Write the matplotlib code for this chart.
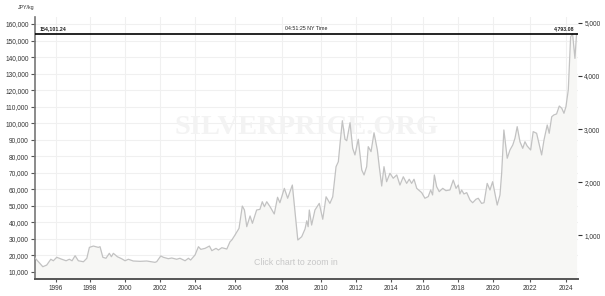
import numpy as np
import matplotlib
matplotlib.use('Agg')
import matplotlib.pyplot as plt

plt.rcParams['font.family'] = ['Liberation Sans', 'DejaVu Sans']

# silver price, JPY per kg
years = [1994.76, 1995.22, 1995.45, 1995.69, 1995.84, 1996.04, 1996.34, 1996.59, 1996.78, 1996.94,
         1997.12, 1997.31, 1997.61, 1997.81, 1997.96, 1998.19, 1998.47, 1998.57, 1998.73, 1998.91,
         1999.10, 1999.22, 1999.33, 1999.56, 1999.81, 2000.00, 2000.19, 2000.47, 2000.86, 2001.24,
         2001.71, 2001.81, 2002.04, 2002.19, 2002.47, 2002.67, 2002.95, 2003.14, 2003.43, 2003.62,
         2003.75, 2004.00, 2004.17, 2004.29, 2004.50, 2004.72, 2004.84, 2005.05, 2005.17, 2005.34,
         2005.59, 2005.75, 2005.84, 2006.00, 2006.17, 2006.31, 2006.40, 2006.50, 2006.64, 2006.74,
         2006.92, 2007.06, 2007.16, 2007.25, 2007.35, 2007.49, 2007.67, 2007.81, 2007.91, 2008.12,
         2008.29, 2008.53, 2008.81, 2009.01, 2009.18, 2009.27, 2009.34, 2009.40, 2009.52, 2009.69,
         2009.91, 2010.10, 2010.29, 2010.51, 2010.67, 2010.86, 2010.99, 2011.09, 2011.22, 2011.37,
         2011.47, 2011.66, 2011.81, 2011.94, 2012.13, 2012.33, 2012.46, 2012.61, 2012.70, 2012.86,
         2013.03, 2013.22, 2013.33, 2013.47, 2013.60, 2013.75, 2013.94, 2014.14, 2014.36, 2014.56,
         2014.77, 2014.98, 2015.14, 2015.29, 2015.44, 2015.61, 2015.92, 2016.11, 2016.30, 2016.44,
         2016.55, 2016.65, 2016.78, 2016.93, 2017.13, 2017.31, 2017.54, 2017.73, 2017.89, 2018.02,
         2018.11, 2018.21, 2018.34, 2018.50, 2018.69, 2018.84, 2019.03, 2019.16, 2019.35, 2019.49,
         2019.67, 2019.83, 2019.98, 2020.23, 2020.38, 2020.47, 2020.59, 2020.77, 2020.92, 2021.07,
         2021.19, 2021.31, 2021.46, 2021.61, 2021.73, 2021.85, 2022.04, 2022.18, 2022.37, 2022.52,
         2022.65, 2022.78, 2022.96, 2023.07, 2023.21, 2023.33, 2023.48, 2023.63, 2023.77, 2023.89,
         2024.00, 2024.13, 2024.26, 2024.37, 2024.50, 2024.59]
price = [18500, 13200, 14200, 17700, 16800, 18900, 17700, 16800, 17700, 16800,
         19850, 16800, 16200, 18300, 24900, 25700, 24900, 25300, 18900, 18300,
         21300, 19250, 21300, 19250, 18000, 16800, 17700, 16650, 16450, 16650,
         15850, 16250, 19700, 18900, 18050, 18470, 17700, 18300, 16800, 18300,
         17250, 20300, 25300, 23700, 24300, 25700, 22900, 24300, 23300, 24700,
         23900, 28300, 29350, 32400, 36400, 49900, 47500, 37400, 43900, 39450,
         47500, 47900, 52500, 49500, 52500, 49500, 45100, 55200, 51900, 60600,
         54600, 62600, 29350, 31350, 36000, 41000, 37400, 47500, 38400, 47500,
         51500, 41900, 55500, 51500, 55500, 73700, 76700, 87800, 101500, 90300,
         89400, 100300, 84800, 80800, 90300, 71700, 68700, 73700, 85800, 82800,
         94200, 83800, 73700, 62000, 73700, 64600, 69700, 66700, 68700, 62600,
         67600, 63600, 66100, 63600, 66100, 60600, 58000, 54600, 55600, 59600,
         56600, 68700, 61600, 58600, 60600, 59200, 59600, 65600, 60600, 62600,
         57200, 59600, 57200, 58000, 53500, 51900, 54000, 54600, 51500, 51900,
         63600, 59600, 64600, 50500, 56600, 69700, 95900, 78800, 83800, 86800,
         90900, 97900, 88800, 84800, 88800, 86200, 83800, 94900, 93900, 86800,
         80800, 89800, 98900, 93900, 103900, 105000, 105600, 110400, 109000, 106000,
         110000, 120100, 152300, 153900, 139200, 154101.24]

last_kg = 154101.24
last_oz = 4793.08
oz_per_kg = 32.1507

year_ticks = list(range(1996, 2025, 2))
left_ticks = list(range(10000, 160001, 10000))
right_ticks = [1000, 2000, 3000, 4000, 5000]

# the time axis of the source is not evenly spaced: piecewise scale
scale_years = [1990] + year_ticks + [2030]
scale_pos = [-46, 56, 90, 125, 160, 195, 235, 282, 321, 356, 391, 423, 458, 493, 530, 566, 674]

def fwd(x):
    return np.interp(x, scale_years, scale_pos)

def inv(p):
    return np.interp(p, scale_pos, scale_years)

fig = plt.figure(figsize=(6.05, 2.96), dpi=100)
ax = fig.add_axes([35/605, 1-279/296, 543/605, 262/296])
ax.set_xscale('function', functions=(fwd, inv))
ylo, yhi = 5770, 164230
ax.set_xlim(1994.76, 2024.67)
ax.set_ylim(ylo, yhi)

ax.fill_between(years, price, ylo, color='#f7f7f5', lw=0, zorder=2)
ax.plot(years, price, color='#c2c2c2', lw=0.9, zorder=4)
ax.axhline(last_kg, color='black', lw=1.2, zorder=5)

ax.set_xticks(year_ticks)
ax.set_xticklabels([str(y) for y in year_ticks])
ax.set_yticks(left_ticks)
ax.set_yticklabels(['{:,}'.format(v) for v in left_ticks])
ax.grid(True, color='#f0f0f0', lw=0.8, zorder=0)
ax.set_axisbelow(True)
ax.tick_params(axis='both', labelsize=4.7, colors='#333333', length=2.5, width=0.8, pad=1.5)
ax.tick_params(axis='y', length=3, color='#555555')
ax.tick_params(axis='x', color='#555555')
for s in ['top', 'right']:
    ax.spines[s].set_visible(False)
ax.spines['left'].set_color('#777777')
ax.spines['left'].set_linewidth(1.2)
ax.spines['bottom'].set_color('#555555')
ax.spines['bottom'].set_linewidth(1.4)

ax2 = ax.twinx()
ax2.set_ylim(ylo/oz_per_kg, yhi/oz_per_kg)
ax2.set_yticks(right_ticks)
ax2.set_yticklabels(['{:,}'.format(v) for v in right_ticks])
ax2.tick_params(axis='y', labelsize=4.7, colors='#333333', length=3, width=0.8, pad=1.5)
for s in ['top', 'right', 'left', 'bottom']:
    ax2.spines[s].set_visible(False)

ax.text(0.5, 0.58, 'SILVERPRICE.ORG', transform=ax.transAxes, ha='center', va='center',
        family='Liberation Serif', fontweight='bold', fontsize=20.5, color='#f3f3f3', zorder=3)
ax.text(0.48, 0.063, 'Click chart to zoom in', transform=ax.transAxes, ha='center', va='center',
        fontsize=6.3, color='#c8c8c8', zorder=6)

ax.text(0.008, last_kg + 1500, '{:,.2f}'.format(last_kg), transform=ax.get_yaxis_transform(),
        ha='left', va='bottom', fontsize=3.8, fontweight='bold', color='#222222', zorder=6)
ax.text(0.5, last_kg + 1500, '04:51:25 NY Time', transform=ax.get_yaxis_transform(),
        ha='center', va='bottom', fontsize=3.8, color='#222222', zorder=6)
ax.text(0.993, last_kg + 1500, '{:,.2f}'.format(last_oz), transform=ax.get_yaxis_transform(),
        ha='right', va='bottom', fontsize=3.8, fontweight='bold', color='#222222', zorder=6)

fig.text(26/605, 1-8/296, 'JPY/kg', ha='center', va='center', fontsize=3.8, color='#333333')

fig.savefig('out.png', dpi=100)
